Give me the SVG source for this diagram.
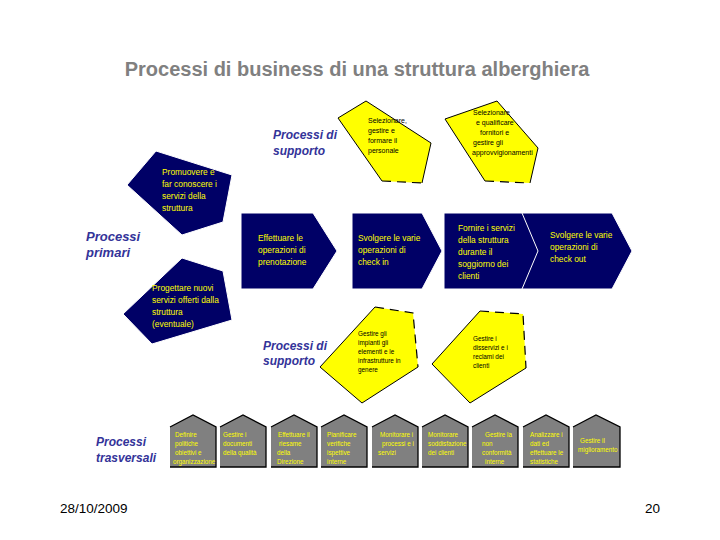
<svg xmlns="http://www.w3.org/2000/svg" width="720" height="540" viewBox="0 0 720 540">
<style>
.title{font-family:"Liberation Sans",Arial,sans-serif;font-weight:bold;font-size:20px;fill:#808080}
.lbl{font-family:"Liberation Sans",Arial,sans-serif;font-weight:bold;font-style:italic;font-size:12px;fill:#333399}
.navy{fill:#000066;stroke:#ffffff;stroke-width:1}
.nt{font-family:"Liberation Sans",Arial,sans-serif;font-size:8.4px;fill:#ffff00}
.yel{fill:#ffff00;stroke:none}
.ed{fill:none;stroke:#000;stroke-width:1}
.dash{fill:none;stroke:#000;stroke-width:1.2;stroke-dasharray:9 6}
.yt{font-family:"Liberation Sans",Arial,sans-serif;font-size:7px;fill:#000}
.yt2{font-family:"Liberation Sans",Arial,sans-serif;font-size:6.4px;fill:#000}
.box{fill:#808080;stroke:none}
.boxe{fill:none;stroke:#000;stroke-width:1.3}
.bt{font-family:"Liberation Sans",Arial,sans-serif;font-size:6.3px;fill:#ffff00}
.foot{font-family:"Liberation Sans",Arial,sans-serif;font-size:13.5px;fill:#000}
</style>
<rect width="720" height="540" fill="#ffffff"/>
<text class="title" x="357" y="76" text-anchor="middle">Processi di business di una struttura alberghiera</text>

<g id="label-supporto-top"><text class="lbl" x="273" y="139">Processi di</text><text class="lbl" x="273" y="155">supporto</text></g>
<g id="label-primari"><text class="lbl" x="86" y="241" style="font-size:13px">Processi</text><text class="lbl" x="86" y="257" style="font-size:13px">primari</text></g>
<g id="label-supporto-bottom"><text class="lbl" x="263" y="350">Processi di</text><text class="lbl" x="263" y="365">supporto</text></g>
<g id="label-trasversali"><text class="lbl" x="96" y="446">Processi</text><text class="lbl" x="96" y="462">trasversali</text></g>

<g id="sup-personale">
<polygon class="yel" points="366,101 431,143 422,183 382,181 338,118"/>
<polyline class="ed" points="382,181 338,118 366,101 431,143 422,183"/>
<line class="dash" x1="382" y1="181" x2="422" y2="183"/>
<text class="yt" x="368" y="123">Selezionare,</text>
<text class="yt" x="368" y="133">gestire e</text>
<text class="yt" x="368" y="143">formare il</text>
<text class="yt" x="368" y="153">personale</text>
</g>

<g id="sup-fornitori">
<polygon class="yel" points="497,101 538,148 530,183 485,181 445,119"/>
<polyline class="ed" points="485,181 445,119 497,101 538,148 530,183"/>
<line class="dash" x1="485" y1="181" x2="530" y2="183"/>
<text class="yt" x="473" y="115">Selezionare</text>
<text class="yt" x="476" y="125">e qualificare</text>
<text class="yt" x="480" y="135">fornitori e</text>
<text class="yt" x="473" y="145">gestire gli</text>
<text class="yt" x="472" y="155">approvvigionamenti</text>
</g>

<g id="pri-promuovere">
<polygon class="navy" points="156,151 232,175 223,222 182,235 127,185"/>
<text class="nt" x="162" y="175">Promuovere e</text>
<text class="nt" x="162" y="187">far conoscere i</text>
<text class="nt" x="162" y="199">servizi della</text>
<text class="nt" x="162" y="211">struttura</text>
</g>

<g id="pri-progettare">
<polygon class="navy" points="182,258 223,271 232,320 152,344 123,314"/>
<text class="nt" x="152" y="291">Progettare nuovi</text>
<text class="nt" x="152" y="303">servizi offerti dalla</text>
<text class="nt" x="152" y="315">struttura</text>
<text class="nt" x="152" y="327">(eventuale)</text>
</g>

<g id="pri-prenotazione">
<polygon class="navy" points="241,213 313,213 337,251 313,289 241,289"/>
<text class="nt" x="258" y="241">Effettuare le</text>
<text class="nt" x="258" y="253">operazioni di</text>
<text class="nt" x="258" y="265">prenotazione</text>
</g>

<g id="pri-checkin">
<polygon class="navy" points="352,213 422,213 442,251 422,289 352,289"/>
<text class="nt" x="358" y="241">Svolgere le varie</text>
<text class="nt" x="358" y="253">operazioni di</text>
<text class="nt" x="358" y="265">check in</text>
</g>

<g id="pri-checkout">
<polygon class="navy" points="521,213 612,213 632,251 612,289 521,289"/>
<text class="nt" x="550" y="238">Svolgere le varie</text>
<text class="nt" x="550" y="250">operazioni di</text>
<text class="nt" x="550" y="262">check out</text>
</g>

<g id="pri-servizi">
<polygon class="navy" points="444,213 522,213 538,251 522,289 444,289"/>
<text class="nt" x="458" y="231">Fornire i servizi</text>
<text class="nt" x="458" y="243">della struttura</text>
<text class="nt" x="458" y="255">durante il</text>
<text class="nt" x="458" y="267">soggiorno dei</text>
<text class="nt" x="458" y="279">clienti</text>
</g>

<g id="sup-impianti">
<polygon class="yel" points="375,307 413,313 418,367 362,403 320,367"/>
<polyline class="ed" points="418,367 362,403 320,367 375,307"/>
<polyline class="dash" points="375,307 413,313 418,367"/>
<text class="yt2" x="358" y="336">Gestire gli</text>
<text class="yt2" x="358" y="345">impianti gli</text>
<text class="yt2" x="358" y="354">elementi e le</text>
<text class="yt2" x="358" y="363">infrastrutture in</text>
<text class="yt2" x="358" y="372">genere</text>
</g>

<g id="sup-reclami">
<polygon class="yel" points="480,311 523,314 526,368 470,403 432,364"/>
<polyline class="ed" points="526,368 470,403 432,364 480,311"/>
<polyline class="dash" points="480,311 523,314 526,368"/>
<text class="yt2" x="473" y="341">Gestire i</text>
<text class="yt2" x="473" y="350">disservizi e i</text>
<text class="yt2" x="473" y="359">reclami dei</text>
<text class="yt2" x="473" y="368">clienti</text>
</g>

<g id="tr-1"><polygon class="box" points="170,427 193,415 216,427 216,467 170,467"/><polyline class="boxe" points="170,427 193,415 216,427 216,467 170,467"/>
<text class="bt" x="175" y="437">Definire</text><text class="bt" x="175" y="446">politiche</text><text class="bt" x="175" y="455">obiettivi e</text><text class="bt" x="173" y="464">organizzazione</text></g>
<g id="tr-2"><polygon class="box" points="220,427 243,415 266,427 266,467 220,467"/><polyline class="boxe" points="220,427 243,415 266,427 266,467 220,467"/>
<text class="bt" x="223" y="437">Gestire i</text><text class="bt" x="223" y="446">documenti</text><text class="bt" x="223" y="455">della qualità</text></g>
<g id="tr-3"><polygon class="box" points="271,427 294,415 317,427 317,467 271,467"/><polyline class="boxe" points="271,427 294,415 317,427 317,467 271,467"/>
<text class="bt" x="278" y="437">Effettuare il</text><text class="bt" x="279" y="446">riesame</text><text class="bt" x="277" y="455">della</text><text class="bt" x="277" y="464">Direzione</text></g>
<g id="tr-4"><polygon class="box" points="321,427 344,415 367,427 367,467 321,467"/><polyline class="boxe" points="321,427 344,415 367,427 367,467 321,467"/>
<text class="bt" x="327" y="437">Pianificare</text><text class="bt" x="327" y="446">verifiche</text><text class="bt" x="327" y="455">ispettive</text><text class="bt" x="327" y="464">interne</text></g>
<g id="tr-5"><polygon class="box" points="372,427 395,415 418,427 418,467 372,467"/><polyline class="boxe" points="372,427 395,415 418,427 418,467 372,467"/>
<text class="bt" x="380" y="437">Monitorare i</text><text class="bt" x="382" y="446">processi e i</text><text class="bt" x="378" y="455">servizi</text></g>
<g id="tr-6"><polygon class="box" points="422,427 445,415 468,427 468,467 422,467"/><polyline class="boxe" points="422,427 445,415 468,427 468,467 422,467"/>
<text class="bt" x="428" y="437">Monitorare</text><text class="bt" x="428" y="446">soddisfazione</text><text class="bt" x="428" y="455">dei clienti</text></g>
<g id="tr-7"><polygon class="box" points="472,427 495,415 518,427 518,467 472,467"/><polyline class="boxe" points="472,427 495,415 518,427 518,467 472,467"/>
<text class="bt" x="485" y="437">Gestire la</text><text class="bt" x="482" y="446">non</text><text class="bt" x="482" y="455">conformità</text><text class="bt" x="485" y="464">interne</text></g>
<g id="tr-8"><polygon class="box" points="523,427 546,415 569,427 569,467 523,467"/><polyline class="boxe" points="523,427 546,415 569,427 569,467 523,467"/>
<text class="bt" x="530" y="437">Analizzare i</text><text class="bt" x="530" y="446">dati ed</text><text class="bt" x="530" y="455">effettuare le</text><text class="bt" x="530" y="464">statistiche</text></g>
<g id="tr-9"><polygon class="box" points="573,427 596,415 620,427 620,467 573,467"/><polyline class="boxe" points="573,427 596,415 620,427 620,467 573,467"/>
<text class="bt" x="580" y="443">Gestire il</text><text class="bt" x="578" y="452">miglioramento</text></g>

<g id="connectors"></g>

<text class="foot" x="60" y="513">28/10/2009</text>
<text class="foot" x="645" y="513">20</text>
</svg>
